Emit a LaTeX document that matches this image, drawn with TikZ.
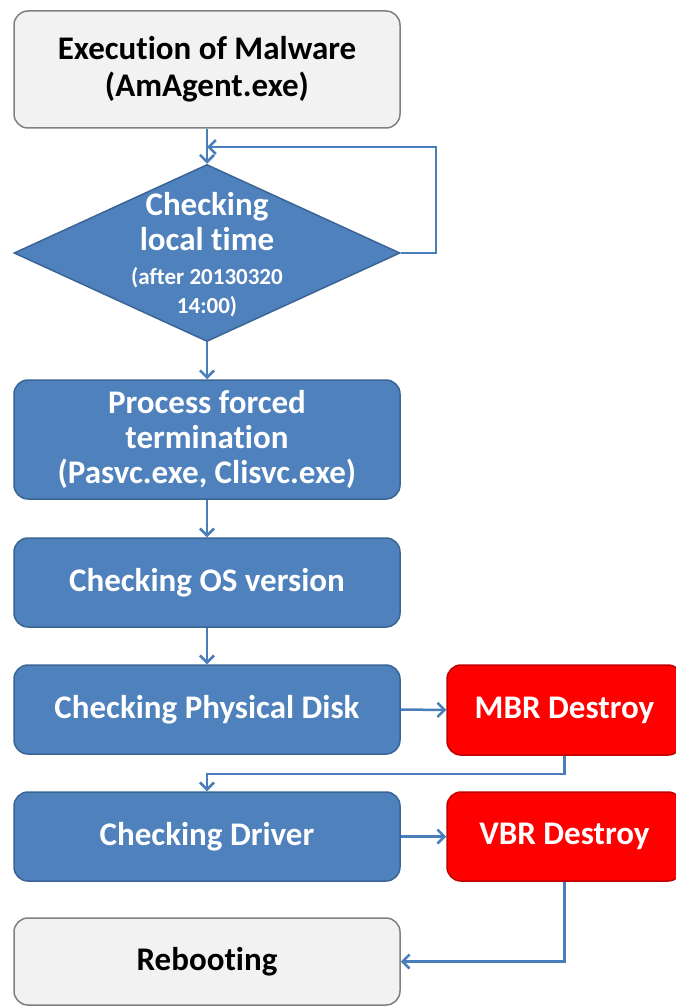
\documentclass[tikz,border=0pt]{standalone}
\usepackage{fontspec}
\setmainfont{Carlito}[Ligatures=NoCommon]
\usetikzlibrary{shapes.geometric,arrows.meta}
\definecolor{boxblue}{HTML}{4F81BD}
\definecolor{boxedge}{HTML}{3A6595}
\definecolor{lineblue}{HTML}{4A7EBB}
\definecolor{boxred}{HTML}{FF0000}
\definecolor{rededge}{HTML}{C00000}
\definecolor{boxgray}{HTML}{F2F2F2}
\tikzset{
  flowbox/.style={rectangle, rounded corners=14pt, draw=boxedge, fill=boxblue, line width=1.5pt,
    minimum width=386pt, text=white, align=center, inner sep=0pt,
    font=\fontsize{33}{35}\selectfont\bfseries},
  endbox/.style={flowbox, draw=gray, fill=boxgray, text=black},
  redbox/.style={flowbox, draw=rededge, fill=boxred, minimum width=235pt},
  flowline/.style={draw=lineblue, line width=2.5pt, -{Straight Barb[length=7pt,width=14pt]}}
}
\begin{document}
\begin{tikzpicture}[x=1pt,y=-1pt]
\useasboundingbox (0,0) rectangle (676,1008);
% boxes
\node[endbox, minimum height=117pt] (exec) at (207,69.5) {Execution of Malware\\[2pt](AmAgent.exe)};
\node[diamond, draw=boxedge, fill=boxblue, line width=1.5pt, minimum width=386pt, minimum height=177pt, inner sep=0pt] (time) at (207,253) {};
\node[text=white, align=center, font=\fontsize{33}{35}\selectfont\bfseries] (timetxt) at (207,255)
  {Checking\\local time\\[-1pt]{\fontsize{23}{29}\selectfont (after 20130320}\\[-6pt]{\fontsize{23}{29}\selectfont 14:00)}};
\node[flowbox, minimum height=119pt] (proc) at (207,439.5) {Process forced\\termination\\(Pasvc.exe, Clisvc.exe)};
\node[flowbox, minimum height=89pt] (os) at (207,582.5) {Checking OS version};
\node[flowbox, minimum height=89pt] (disk) at (207,709.5) {Checking Physical Disk};
\node[redbox, minimum height=90pt] (mbr) at (564.5,710) {MBR Destroy};
\node[flowbox, minimum height=89pt] (driver) at (207,836.5) {Checking Driver};
\node[redbox, minimum height=89pt] (vbr) at (564.5,836.5) {VBR Destroy};
\node[endbox, minimum height=87pt] (reboot) at (207,961.5) {Rebooting};
% connectors
\coordinate (loopin) at (207,147);
\draw[flowline] (exec.south) -- (time.north);
\draw[flowline] (time.east) -- ++(35,0) |- (loopin);
\draw[flowline] (time.south) -- (proc.north);
\draw[flowline] (proc.south) -- (os.north);
\draw[flowline] (os.south) -- (disk.north);
\draw[flowline] (disk.east) -- (mbr.west);
\draw[flowline] (mbr.south) -- ++(0,18) -| (driver.north);
\draw[flowline] (driver.east) -- (vbr.west);
\draw[flowline] (vbr.south) |- (reboot.east);
\end{tikzpicture}
\end{document}
